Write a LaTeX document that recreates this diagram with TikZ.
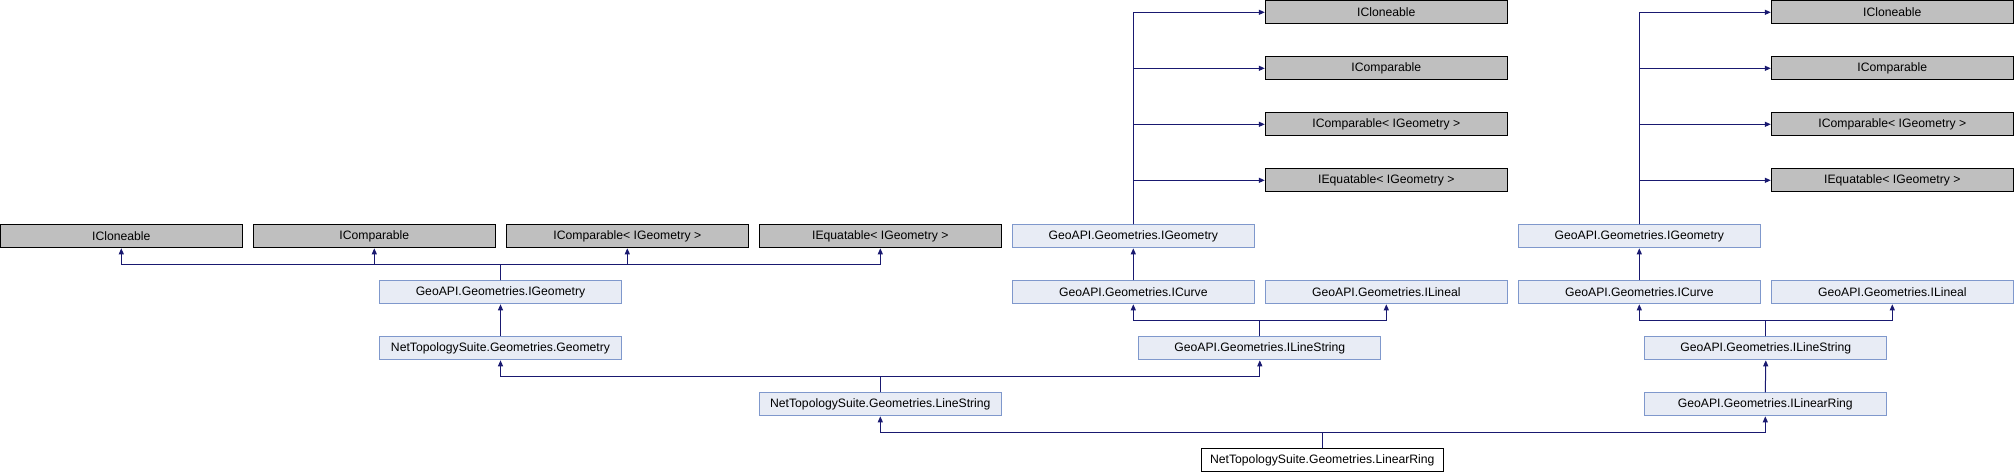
\documentclass[tikz,border=0pt]{standalone}
\usepackage{fontspec}
\setmainfont{Liberation Sans}
\usepackage{tikz}
\usetikzlibrary{arrows.meta,positioning,calc}

\definecolor{edgeblue}{RGB}{25,25,112}
\definecolor{ifill}{HTML}{E8ECF5}
\definecolor{iline}{HTML}{7F98CC}
\definecolor{extfill}{RGB}{191,191,191}

\begin{document}
\begin{tikzpicture}[x=1pt, y=-1pt,
    every node/.style={font=\fontsize{12.2}{14}\selectfont, minimum width=242pt, minimum height=23pt, inner sep=0pt, line width=1pt},
    ext/.style={draw=black, fill=extfill},
    iface/.style={draw=iline, fill=ifill},
    cls/.style={draw=black, fill=white},
    arr/.style={draw=edgeblue, line width=1pt, -{Triangle[length=6pt,width=5pt]}}]
    \useasboundingbox (0,0) rectangle (2014,472);

    % External interfaces, left row
    \foreach \n/\t [count=\i from 0] in {clone/ICloneable, comp/IComparable, compg/IComparable< IGeometry >, equat/IEquatable< IGeometry >}
        \node[ext] (l\n) at (121.3+253*\i, 236.3) {\t};

    % External interfaces, stacked columns
    \foreach \g/\cx in {m/1386.3, r/1892.3} {
        \foreach \n/\t [count=\i from 0] in {clone/ICloneable, comp/IComparable, compg/IComparable< IGeometry >, equat/IEquatable< IGeometry >}
            \node[ext] (\g\n) at (\cx, 12.3+56*\i) {\t};
    }

    % GeoAPI interfaces
    \foreach \g/\cx in {m/1133.3, r/1639.3} {
        \node[iface] (\g igeom) at (\cx, 236.3) {GeoAPI.Geometries.IGeometry};
        \node[iface] (\g curve) at (\cx, 292.3) {GeoAPI.Geometries.ICurve};
        \node[iface] (\g lineal) at (\cx+253, 292.3) {GeoAPI.Geometries.ILineal};
        \node[iface] (\g linestr) at (\cx+126.5, 348.3) {GeoAPI.Geometries.ILineString};
    }
    \node[iface] (rlinring) at (1765.3, 404.3) {GeoAPI.Geometries.ILinearRing};

    % NetTopologySuite classes
    \node[iface] (ligeom) at (500.5, 292.3) {GeoAPI.Geometries.IGeometry};
    \node[iface] (lgeom) at (500.5, 348.3) {NetTopologySuite.Geometries.Geometry};
    \node[iface] (lline) at (880.3, 404.3) {NetTopologySuite.Geometries.LineString};
    \node[cls] (ring) at (1322.3, 460.3) {NetTopologySuite.Geometries.LinearRing};

    % Bus heights
    \coordinate (lbus) at (0, 264.3);
    \coordinate (cbus) at (0, 320.3);
    \coordinate (lsbus) at (0, 376.3);
    \coordinate (rbus) at (0, 432.3);

    %Draw inheritance edges
    \foreach \p in {lclone,lcomp,lcompg,lequat}
        \draw[arr] (ligeom.north) -- (ligeom.north |- lbus) -| (\p.south);
    \draw[arr] (lgeom.north) -- (ligeom.south);
    \foreach \p in {lgeom,mlinestr}
        \draw[arr] (lline.north) -- (lline.north |- lsbus) -| (\p.south);
    \foreach \p in {lline,rlinring}
        \draw[arr] (ring.north) -- (ring.north |- rbus) -| (\p.south);

    \foreach \g in {m,r} {
        \foreach \p in {clone,comp,compg,equat}
            \draw[arr] (\g igeom.north) |- (\g\p.west);
        \draw[arr] (\g curve.north) -- (\g igeom.south);
        \foreach \p in {curve,lineal}
            \draw[arr] (\g linestr.north) -- (\g linestr.north |- cbus) -| (\g\p.south);
    }
    \draw[arr] (rlinring.north) -- (rlinestr.south);
\end{tikzpicture}
\end{document}
